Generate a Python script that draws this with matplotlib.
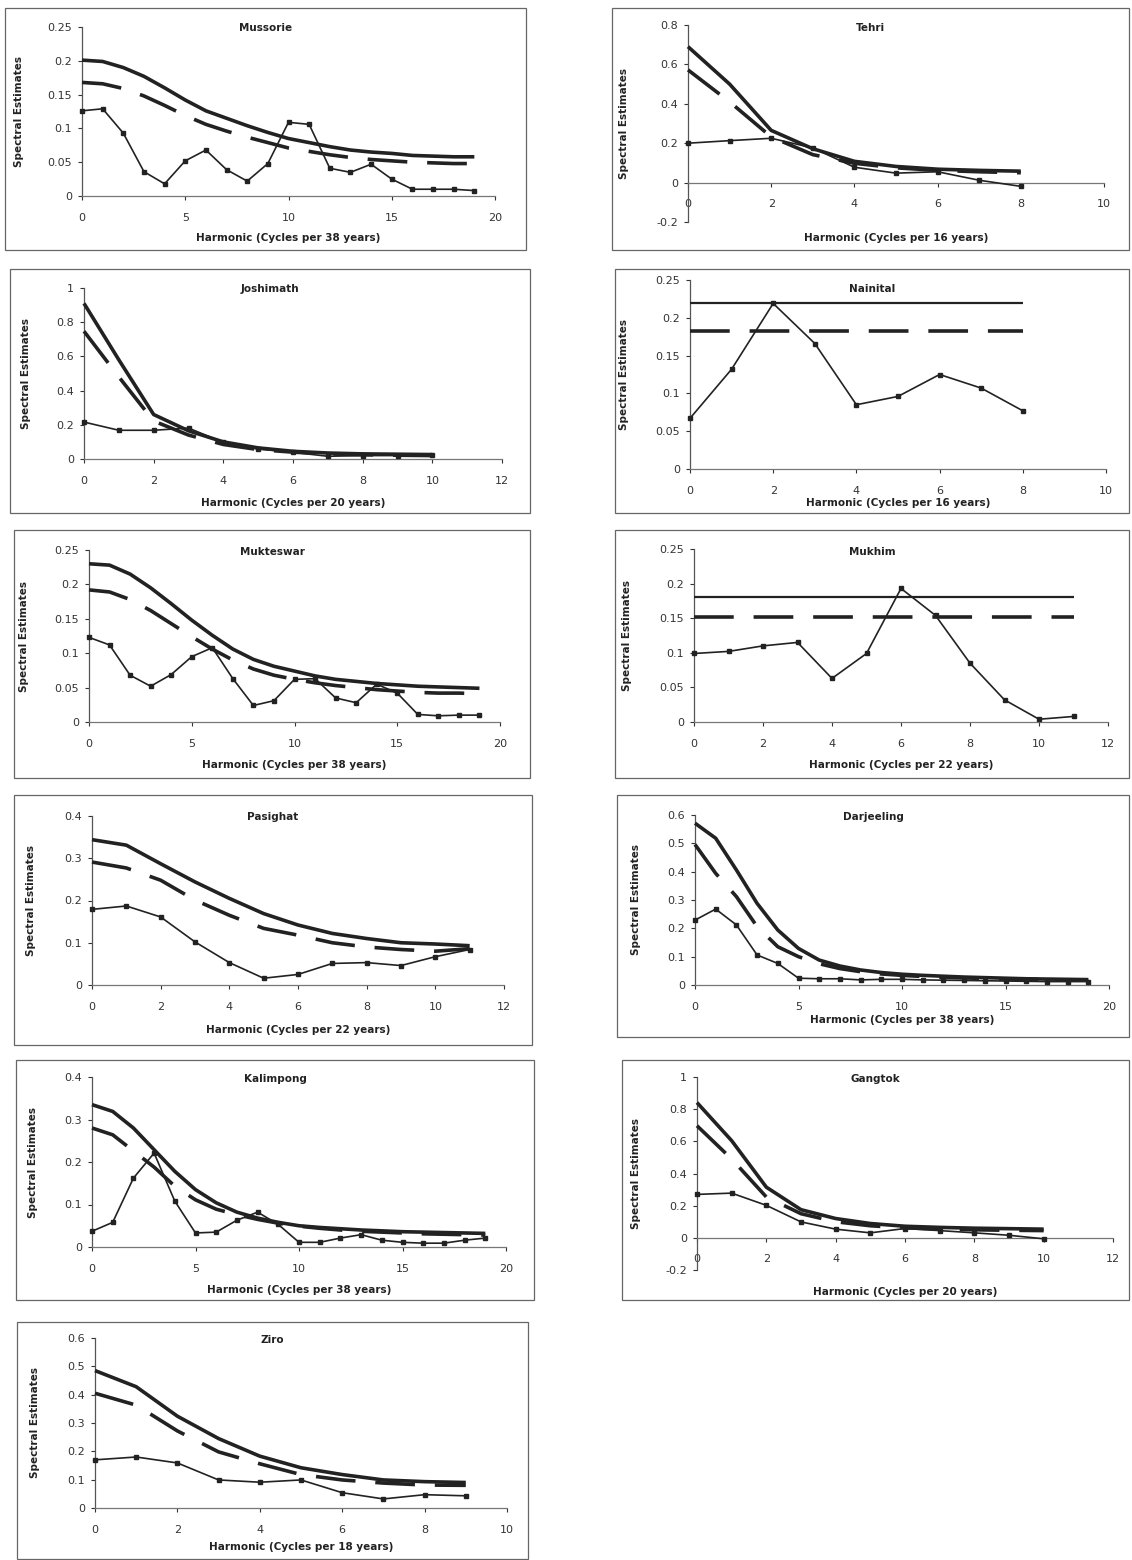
import matplotlib
matplotlib.use("Agg")
import matplotlib.pyplot as plt
from matplotlib.patches import Rectangle
from matplotlib.ticker import FuncFormatter

# ---------------------------------------------------------------
# Spectral estimates (thin line with squares), red-noise upper
# confidence bound (thick solid) and red-noise mean (thick dashed)
# ---------------------------------------------------------------
mussorie_spec = [0.126, 0.129, 0.093, 0.036, 0.018, 0.052, 0.068, 0.039, 0.022, 0.048,
                 0.109, 0.106, 0.041, 0.035, 0.047, 0.025, 0.010, 0.010, 0.010, 0.008]
mussorie_upper = [0.201, 0.199, 0.190, 0.177, 0.160, 0.142, 0.126, 0.115, 0.104, 0.094,
                  0.085, 0.079, 0.073, 0.068, 0.065, 0.063, 0.060, 0.059, 0.058, 0.058]
mussorie_mean = [0.168, 0.166, 0.159, 0.148, 0.134, 0.119, 0.106, 0.096, 0.087, 0.079,
                 0.071, 0.066, 0.061, 0.057, 0.054, 0.052, 0.050, 0.049, 0.048, 0.048]

tehri_spec = [0.200, 0.213, 0.225, 0.176, 0.078, 0.048, 0.055, 0.012, -0.019]
tehri_upper = [0.690, 0.500, 0.265, 0.172, 0.108, 0.082, 0.068, 0.062, 0.058]
tehri_mean = [0.572, 0.410, 0.232, 0.142, 0.098, 0.075, 0.062, 0.055, 0.050]

joshimath_spec = [0.216, 0.168, 0.168, 0.181, 0.097, 0.058, 0.039, 0.016, 0.020, 0.020, 0.025]
joshimath_upper = [0.910, 0.580, 0.260, 0.165, 0.100, 0.065, 0.045, 0.035, 0.030, 0.028, 0.026]
joshimath_mean = [0.747, 0.480, 0.222, 0.140, 0.085, 0.055, 0.040, 0.030, 0.025, 0.022, 0.020]

nainital_spec = [0.067, 0.132, 0.219, 0.166, 0.085, 0.096, 0.125, 0.107, 0.077]
nainital_upper = [0.220, 0.220, 0.220, 0.220, 0.220, 0.220, 0.220, 0.220, 0.220]
nainital_mean = [0.183, 0.183, 0.183, 0.183, 0.183, 0.183, 0.183, 0.183, 0.183]

mukteswar_spec = [0.123, 0.112, 0.068, 0.052, 0.069, 0.095, 0.108, 0.063, 0.024, 0.031,
                  0.062, 0.063, 0.035, 0.028, 0.055, 0.042, 0.011, 0.009, 0.010, 0.010]
mukteswar_upper = [0.230, 0.228, 0.215, 0.195, 0.172, 0.148, 0.126, 0.106, 0.091, 0.081,
                   0.074, 0.067, 0.062, 0.059, 0.056, 0.054, 0.052, 0.051, 0.050, 0.049]
mukteswar_mean = [0.192, 0.189, 0.178, 0.162, 0.143, 0.124, 0.106, 0.090, 0.077, 0.068,
                  0.062, 0.057, 0.053, 0.050, 0.047, 0.045, 0.043, 0.042, 0.042, 0.041]

mukhim_spec = [0.099, 0.102, 0.110, 0.115, 0.063, 0.099, 0.193, 0.154, 0.085, 0.032, 0.004, 0.008]
mukhim_upper = [0.180, 0.180, 0.180, 0.180, 0.180, 0.180, 0.180, 0.180, 0.180, 0.180, 0.180, 0.180]
mukhim_mean = [0.152, 0.152, 0.152, 0.152, 0.152, 0.152, 0.152, 0.152, 0.152, 0.152, 0.152, 0.152]

pasighat_spec = [0.179, 0.187, 0.161, 0.102, 0.053, 0.016, 0.025, 0.051, 0.053, 0.046, 0.067, 0.084]
pasighat_upper = [0.344, 0.331, 0.287, 0.244, 0.205, 0.169, 0.142, 0.122, 0.110, 0.100, 0.097, 0.093]
pasighat_mean = [0.291, 0.277, 0.248, 0.201, 0.165, 0.134, 0.118, 0.100, 0.090, 0.084, 0.080, 0.086]

darjeeling_spec = [0.229, 0.268, 0.212, 0.106, 0.076, 0.024, 0.022, 0.022, 0.018, 0.020,
                   0.020, 0.018, 0.017, 0.016, 0.015, 0.014, 0.013, 0.012, 0.012, 0.012]
darjeeling_upper = [0.571, 0.518, 0.406, 0.288, 0.194, 0.129, 0.088, 0.067, 0.053, 0.044,
                    0.038, 0.034, 0.031, 0.028, 0.026, 0.024, 0.022, 0.021, 0.020, 0.019]
darjeeling_mean = [0.496, 0.394, 0.312, 0.206, 0.135, 0.100, 0.075, 0.058, 0.047, 0.039,
                   0.034, 0.030, 0.027, 0.025, 0.023, 0.021, 0.020, 0.019, 0.018, 0.017]

kalimpong_spec = [0.037, 0.058, 0.162, 0.221, 0.108, 0.033, 0.035, 0.063, 0.082, 0.053,
                  0.011, 0.011, 0.021, 0.029, 0.016, 0.011, 0.009, 0.009, 0.016, 0.021]
kalimpong_upper = [0.335, 0.319, 0.280, 0.229, 0.178, 0.135, 0.104, 0.082, 0.068, 0.058,
                   0.050, 0.046, 0.043, 0.040, 0.038, 0.036, 0.035, 0.034, 0.033, 0.032]
kalimpong_mean = [0.280, 0.264, 0.226, 0.188, 0.143, 0.111, 0.089, 0.076, 0.065, 0.056,
                  0.049, 0.044, 0.040, 0.037, 0.035, 0.033, 0.031, 0.030, 0.029, 0.028]

gangtok_spec = [0.270, 0.278, 0.202, 0.099, 0.054, 0.031, 0.058, 0.045, 0.031, 0.016, -0.006]
gangtok_upper = [0.841, 0.604, 0.315, 0.175, 0.120, 0.089, 0.072, 0.065, 0.060, 0.057, 0.054]
gangtok_mean = [0.697, 0.490, 0.254, 0.150, 0.100, 0.075, 0.062, 0.055, 0.050, 0.047, 0.045]

ziro_spec = [0.170, 0.180, 0.159, 0.099, 0.091, 0.099, 0.054, 0.032, 0.047, 0.043]
ziro_upper = [0.485, 0.428, 0.324, 0.245, 0.183, 0.142, 0.118, 0.099, 0.093, 0.090]
ziro_mean = [0.405, 0.363, 0.272, 0.198, 0.156, 0.118, 0.099, 0.088, 0.081, 0.080]

# station name, record length (years), series
stations = [
    ("Mussorie", 38, mussorie_spec, mussorie_upper, mussorie_mean),
    ("Tehri", 16, tehri_spec, tehri_upper, tehri_mean),
    ("Joshimath", 20, joshimath_spec, joshimath_upper, joshimath_mean),
    ("Nainital", 16, nainital_spec, nainital_upper, nainital_mean),
    ("Mukteswar", 38, mukteswar_spec, mukteswar_upper, mukteswar_mean),
    ("Mukhim", 22, mukhim_spec, mukhim_upper, mukhim_mean),
    ("Pasighat", 22, pasighat_spec, pasighat_upper, pasighat_mean),
    ("Darjeeling", 38, darjeeling_spec, darjeeling_upper, darjeeling_mean),
    ("Kalimpong", 38, kalimpong_spec, kalimpong_upper, kalimpong_mean),
    ("Gangtok", 20, gangtok_spec, gangtok_upper, gangtok_mean),
    ("Ziro", 18, ziro_spec, ziro_upper, ziro_mean),
]

# axis ranges: (xmax, xstep, ymin, ymax, ystep)
axis_ranges = {
    "Mussorie": (20, 5, 0.0, 0.25, 0.05),
    "Tehri": (10, 2, -0.2, 0.8, 0.2),
    "Joshimath": (12, 2, 0.0, 1.0, 0.2),
    "Nainital": (10, 2, 0.0, 0.25, 0.05),
    "Mukteswar": (20, 5, 0.0, 0.25, 0.05),
    "Mukhim": (12, 2, 0.0, 0.25, 0.05),
    "Pasighat": (12, 2, 0.0, 0.4, 0.1),
    "Darjeeling": (20, 5, 0.0, 0.6, 0.1),
    "Kalimpong": (20, 5, 0.0, 0.4, 0.1),
    "Gangtok": (12, 2, -0.2, 1.0, 0.2),
    "Ziro": (10, 2, 0.0, 0.6, 0.1),
}

# flat (white-noise) limits are drawn with a lighter solid line
flat_limit = {"Nainital", "Mukhim"}

# page layout in pixels:
# frame (x0, y0, x1, y1), plot area (x0, x1, ytop, ybottom),
# title y, x-label y, y-label x
layout = {
    "Mussorie":   ((5, 8, 526, 250),     (82, 495, 27, 196),     28, 238, 19),
    "Tehri":      ((612, 8, 1129, 250),  (688, 1104, 25, 222),   28, 238, 624),
    "Joshimath":  ((10, 269, 530, 513),  (84, 502, 288, 459),    289, 503, 26),
    "Nainital":   ((615, 269, 1129, 513), (690, 1106, 280, 469), 289, 503, 624),
    "Mukteswar":  ((14, 530, 530, 778),  (89, 500, 550, 722),    552, 765, 24),
    "Mukhim":     ((615, 530, 1129, 778), (694, 1108, 549, 722), 552, 765, 627),
    "Pasighat":   ((14, 795, 532, 1045), (92, 504, 816, 985),    817, 1030, 31),
    "Darjeeling": ((617, 795, 1129, 1037), (695, 1109, 815, 985), 817, 1020, 636),
    "Kalimpong":  ((16, 1060, 534, 1300), (92, 506, 1077, 1247), 1079, 1290, 33),
    "Gangtok":    ((622, 1060, 1129, 1300), (697, 1113, 1077, 1270), 1079, 1292, 636),
    "Ziro":       ((17, 1322, 528, 1559), (95, 507, 1338, 1508), 1340, 1547, 35),
}

W, H = 1132, 1560
fig = plt.figure(figsize=(W / 100, H / 100), dpi=100)
fig.patch.set_facecolor("white")

INK = "#222222"
tick_fmt = FuncFormatter(lambda v, pos: f"{round(v, 4):g}")


def fx(px):
    return px / W


def fy(py):
    return 1 - py / H


for name, years, spec, upper, mean in stations:
    (bx0, by0, bx1, by1), (ax0, ax1, aytop, aybot), ty, xly, ylx = layout[name]
    xmax, xstep, ymin, ymax, ystep = axis_ranges[name]

    # panel frame
    fig.patches.append(Rectangle((fx(bx0), fy(by1)), fx(bx1 - bx0), (by1 - by0) / H,
                                 transform=fig.transFigure, fill=False,
                                 lw=0.9, ec="#666666"))

    ax = fig.add_axes([fx(ax0), fy(aybot), fx(ax1 - ax0), (aybot - aytop) / H])
    ax.set_facecolor("none")
    harmonics = list(range(len(spec)))

    upper_lw = 1.6 if name in flat_limit else 2.6
    ax.plot(harmonics, upper, color=INK, lw=upper_lw, solid_capstyle="butt",
            clip_on=False, zorder=3)
    ax.plot(harmonics, mean, color=INK, lw=2.6, dashes=(11, 5.5),
            dash_capstyle="butt", clip_on=False, zorder=3)
    ax.plot(harmonics, spec, color=INK, lw=1.2, marker="s", markersize=3.2,
            clip_on=False, zorder=4)

    ax.set_xlim(0, xmax)
    ax.set_ylim(ymin, ymax)
    nx = int(round(xmax / xstep))
    ax.set_xticks([i * xstep for i in range(nx + 1)])
    ny = int(round((ymax - ymin) / ystep))
    ax.set_yticks([ymin + i * ystep for i in range(ny + 1)])
    ax.xaxis.set_major_formatter(tick_fmt)
    ax.yaxis.set_major_formatter(tick_fmt)

    for side in ("top", "right"):
        ax.spines[side].set_visible(False)
    ax.spines["bottom"].set_position(("data", 0))
    ax.spines["left"].set_color("#555555")
    ax.spines["bottom"].set_color("#777777")
    ax.spines["left"].set_linewidth(0.9)
    ax.spines["bottom"].set_linewidth(0.9)

    ax.tick_params(axis="y", direction="out", length=3, width=0.8, pad=4,
                   labelsize=8, colors="#333333")
    ax.tick_params(axis="x", direction="out", length=3, width=0.8, pad=9,
                   labelsize=8, colors="#333333")

    # title, axis titles
    fig.text(fx((bx0 + bx1) / 2), fy(ty), name, ha="center", va="center",
             fontsize=7.5, fontweight="bold", color="#222222")
    fig.text(fx((ax0 + ax1) / 2), fy(xly), f"Harmonic (Cycles per {years} years)",
             ha="center", va="center", fontsize=7.5, fontweight="bold",
             color="#222222")
    fig.text(fx(ylx), fy((aytop + aybot) / 2), "Spectral Estimates",
             ha="center", va="center", rotation=90, fontsize=7.5,
             fontweight="bold", color="#222222")

fig.savefig("out.png", dpi=100, facecolor="white")
